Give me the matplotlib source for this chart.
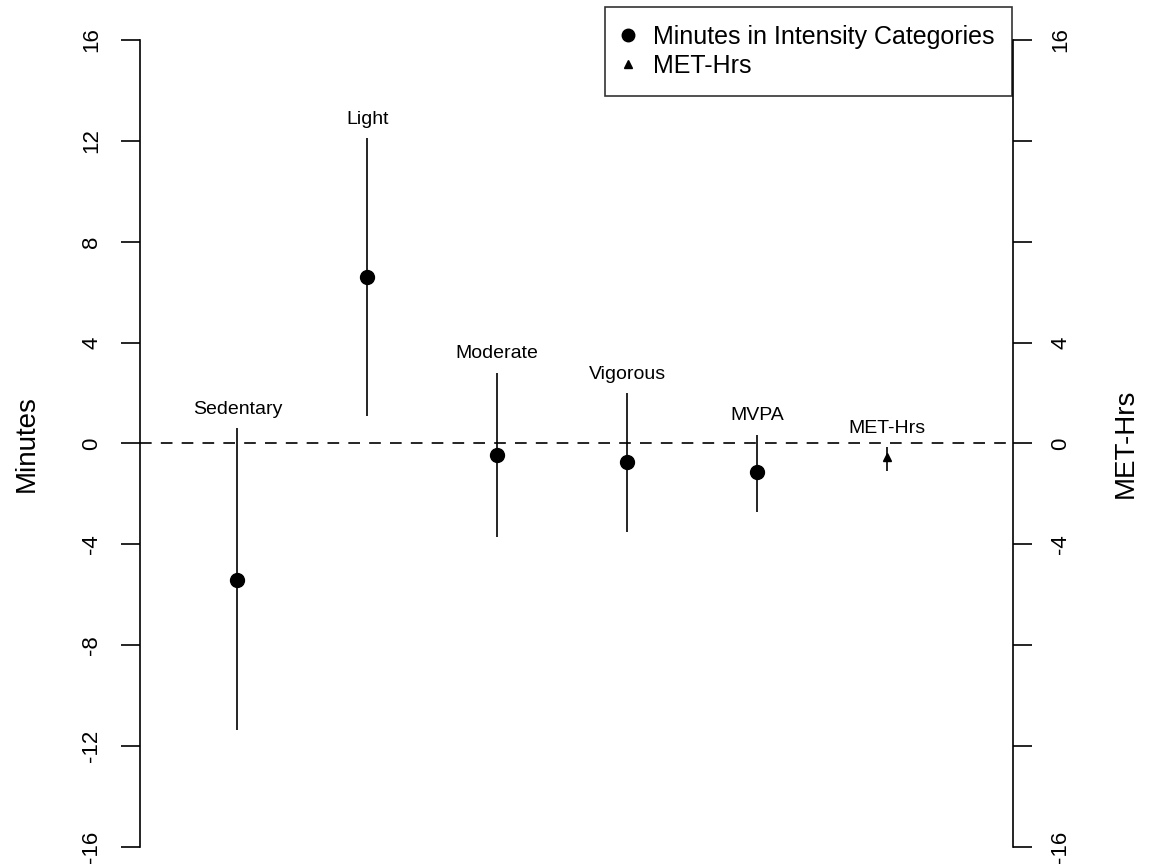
import numpy as np
import matplotlib
matplotlib.use("Agg")
import matplotlib.pyplot as plt
from matplotlib.lines import Line2D

plt.rcParams['font.family'] = ['Liberation Sans', 'DejaVu Sans']

# Оценки и доверительные интервалы (минуты и MET-часы)
categories = ['Sedentary', 'Light', 'Moderate', 'Vigorous', 'MVPA', 'MET-Hrs']
estimate = [-5.4, 6.6, -0.45, -0.75, -1.15, -0.55]
ci_low = [-11.35, 1.1, -3.7, -3.5, -2.7, -1.1]
ci_high = [0.6, 12.1, 2.8, 2.0, 0.35, -0.15]
is_met = [False, False, False, False, False, True]

yticks = [-16, -12, -8, -4, 0, 4, 8, 12, 16]
right_labels = ['-16', '', '', '-4', '0', '4', '', '', '16']

fig = plt.figure(figsize=(11.52, 8.67), dpi=100)
ax = fig.add_axes([0.1215, 0.0231, 0.8793 - 0.1215, 0.9539 - 0.0231])
ax.set_xlim(0.25, 6.97)
ax.set_ylim(-16, 16)

x = np.arange(1, len(categories) + 1)

# нулевая линия
ax.axhline(0, color='black', lw=1.2, dashes=(7, 5.5), zorder=1)

for i in range(len(categories)):
    ax.vlines(x[i], ci_low[i], ci_high[i], color='black', lw=1.2, zorder=2)
    if is_met[i]:
        ax.plot(x[i], estimate[i], marker='^', color='black', ms=6, zorder=3)
    else:
        ax.plot(x[i], estimate[i], marker='o', color='black', ms=10, zorder=3)
    ax.text(x[i], ci_high[i] + 0.75, categories[i], ha='center', va='center',
            fontsize=14)

# оси в стиле R
for s in ['top', 'bottom', 'right']:
    ax.spines[s].set_visible(False)
ax.spines['left'].set_bounds(-16, 16)
ax.spines['left'].set_linewidth(1.2)
ax.set_xticks([])
ax.set_yticks(yticks)
ax.set_yticklabels([str(t) for t in yticks], rotation=90, va='center')
ax.tick_params(axis='y', length=14, width=1.2, pad=13, labelsize=16)
ax.set_ylabel('Minutes', fontsize=20, labelpad=30)

ax2 = ax.twinx()
ax2.set_ylim(-16, 16)
for s in ['top', 'bottom', 'left']:
    ax2.spines[s].set_visible(False)
ax2.spines['right'].set_bounds(-16, 16)
ax2.spines['right'].set_linewidth(1.2)
ax2.set_yticks(yticks)
ax2.set_yticklabels(right_labels, rotation=90, va='center')
ax2.tick_params(axis='y', length=14, width=1.2, pad=13, labelsize=16)
ax2.set_ylabel('MET-Hrs', fontsize=20, labelpad=30)

handles = [
    Line2D([], [], ls='none', marker='o', color='black', ms=9),
    Line2D([], [], ls='none', marker='^', color='black', ms=6),
]
leg = fig.legend(handles, ['Minutes in Intensity Categories', 'MET-Hrs'],
                 loc='upper right', bbox_to_anchor=(0.8785, 0.992),
                 fontsize=18, frameon=True, fancybox=False,
                 edgecolor='black', handlelength=0.4, handletextpad=0.8,
                 borderpad=0.72, labelspacing=0.2, borderaxespad=0)
leg.get_frame().set_linewidth(1.2)

fig.savefig('out.png', dpi=100)
